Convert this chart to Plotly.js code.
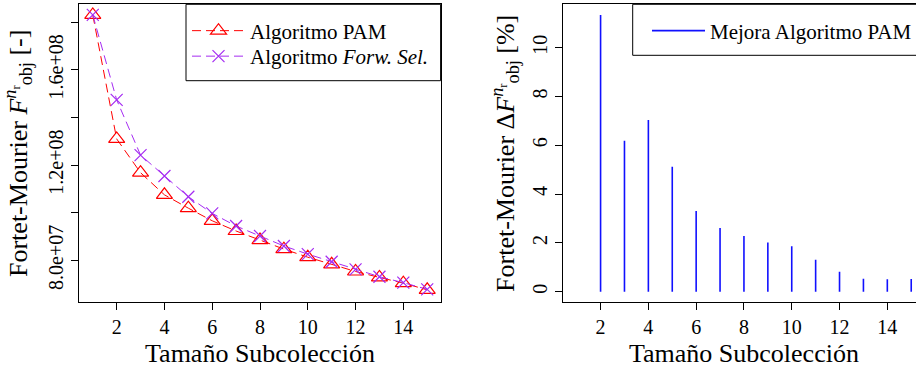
<!DOCTYPE html>
<html><head><meta charset="utf-8">
<script src="https://cdn.plot.ly/plotly-3.0.1.min.js"></script>
<style>html,body{margin:0;padding:0;overflow:hidden;background:#fff}#chart{width:926px;height:368px}</style>
</head><body><div id="chart"></div>
<script>
// Data
const tamano = [1,2,3,4,5,6,7,8,9,10,11,12,13,14,15];
const fobjPAM = [1.831e8,1.310e8,1.168e8,1.075e8,1.019e8,9.66e7,9.23e7,8.85e7,8.47e7,8.13e7,7.83e7,7.53e7,7.28e7,7.04e7,6.76e7];
const fobjFS  = [1.831e8,1.474e8,1.242e8,1.154e8,1.067e8,9.97e7,9.44e7,9.02e7,8.60e7,8.26e7,7.94e7,7.62e7,7.31e7,7.06e7,6.78e7];
const mejoraPAM = [0,11.34,6.19,7.04,5.12,3.31,2.61,2.28,2.02,1.86,1.31,0.82,0.53,0.51,0.52];
const xTicks = [2,4,6,8,10,12,14];
const yTicksLeft = [8e7,1.2e8,1.6e8];
const yTickTextLeft = ['8.0e+07','1.2e+08','1.6e+08'];
const yMinorLeft = [1e8,1.4e8,1.8e8];
const yTicksRight = [0,2,4,6,8,10];

const W = 926, H = 368;
const FONT = 'Liberation Serif';
const px = v => v / W;
const py = v => 1 - v / H;

// stems for the right panel (type "h")
const stemX = [], stemY = [];
tamano.forEach((t, i) => { stemX.push(t, t, null); stemY.push(0, mejoraPAM[i], null); });

const traces = [
  {x: tamano, y: fobjPAM, type: 'scatter', mode: 'lines+markers', name: 'Algoritmo PAM',
   xaxis: 'x', yaxis: 'y', legend: 'legend4',
   line: {color: '#ff0000', width: 1, dash: '9px,5px'},
   marker: {symbol: 'triangle-up-open', size: 14, color: '#ff0000', line: {width: 1.2, color: '#ff0000'}}},
  {x: tamano, y: fobjFS, type: 'scatter', mode: 'lines+markers', name: 'Algoritmo <i>Forw. Sel.</i>',
   xaxis: 'x', yaxis: 'y', legend: 'legend3',
   line: {color: '#a52cf2', width: 1, dash: '9px,5px'},
   marker: {symbol: 'x-thin-open', size: 12, color: '#a52cf2', line: {width: 1.2, color: '#a52cf2'}}},
  {x: stemX, y: stemY, type: 'scatter', mode: 'lines', name: 'Mejora Algoritmo PAM',
   xaxis: 'x2', yaxis: 'y2', legend: 'legend2', connectgaps: false,
   line: {color: '#1010ff', width: 1.6}}
];

const yDom = [py(302.3), py(4.3)];
const axisCommon = {
  showline: true, mirror: true, linecolor: '#000', linewidth: 1,
  ticks: 'outside', ticklen: 7, tickcolor: '#000', tickwidth: 1,
  showgrid: false, zeroline: false,
  tickfont: {family: FONT, size: 20, color: '#000'}
};
const titleFont = {family: FONT, size: 26, color: '#000'};
const legendFont = {family: FONT, size: 21, color: '#000'};
const legendBase = {xanchor: 'left', yanchor: 'middle', bgcolor: 'rgba(0,0,0,0)', borderwidth: 0, itemwidth: 53, font: legendFont};

const layout = {
  width: W, height: H,
  margin: {l: 0, r: 0, t: 0, b: 0},
  paper_bgcolor: '#fff', plot_bgcolor: '#fff',
  font: {family: FONT, color: '#000'},
  xaxis: Object.assign({}, axisCommon, {
    domain: [px(79.4), px(440.6)], range: [0.44, 15.56],
    tickvals: xTicks, anchor: 'y',
    title: {text: 'Tamaño Subcolección', font: titleFont}
  }),
  yaxis: Object.assign({}, axisCommon, {
    domain: yDom, range: [6.235e7, 1.8756e8],
    tickmode: 'array', tickvals: yTicksLeft, ticktext: yTickTextLeft, tickangle: -90, anchor: 'x',
    minor: {tickmode: 'array', tickvals: yMinorLeft, ticks: 'outside', ticklen: 7, tickcolor: '#000', tickwidth: 1, showgrid: false},
    title: {text: 'Fortet-Mourier <i>F</i><sup><i>n</i><sub>r</sub></sup><sub>obj</sub> [-]', font: titleFont, standoff: 25}
  }),
  xaxis2: Object.assign({}, axisCommon, {
    domain: [px(563.3), px(924.6)], range: [0.44, 15.56],
    tickvals: xTicks, anchor: 'y2',
    title: {text: 'Tamaño Subcolección', font: titleFont}
  }),
  yaxis2: Object.assign({}, axisCommon, {
    domain: yDom, range: [-0.434, 11.78],
    tickvals: yTicksRight, tickangle: -90, anchor: 'x2',
    title: {text: 'Fortet-Mourier Δ<i>F</i><sup><i>n</i><sub>r</sub></sup><sub>obj</sub> [%]', font: titleFont, standoff: 7}
  }),
  legend4: Object.assign({}, legendBase, {x: px(187), y: py(31)}),
  legend3: Object.assign({}, legendBase, {x: px(187), y: py(56.5)}),
  legend2: Object.assign({}, legendBase, {x: px(647), y: py(31)}),
  shapes: [
    {type: 'rect', xref: 'paper', yref: 'paper', x0: px(186), x1: px(440.6), y0: py(80.7), y1: py(4.3),
     line: {color: '#000', width: 1}, fillcolor: 'rgba(0,0,0,0)'},
    {type: 'rect', xref: 'paper', yref: 'paper', x0: px(632.7), x1: px(924.6), y0: py(55.3), y1: py(4.3),
     line: {color: '#000', width: 1}, fillcolor: 'rgba(0,0,0,0)'}
  ],
  showlegend: true
};

Plotly.newPlot('chart', traces, layout, {staticPlot: true, displayModeBar: false});
</script>
</body></html>
